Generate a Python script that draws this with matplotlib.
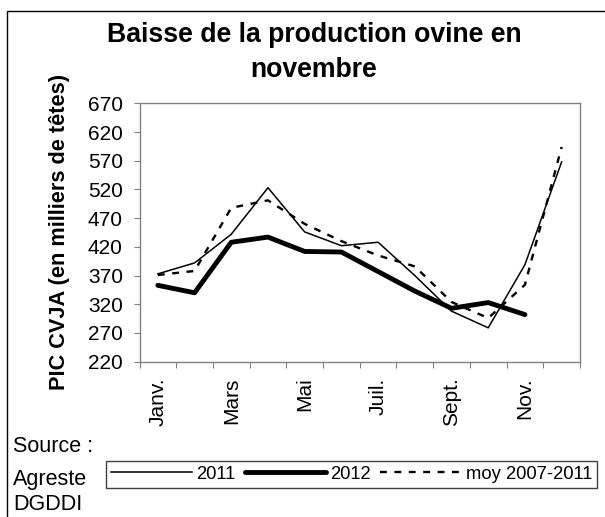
import numpy as np
import matplotlib
matplotlib.use("Agg")
import matplotlib.pyplot as plt
from matplotlib.patches import Rectangle

plt.rcParams['font.family'] = ['Liberation Sans', 'DejaVu Sans']

# Data (milliers de têtes)
months = ['Janv.', 'Févr.', 'Mars', 'Avr.', 'Mai', 'Juin',
          'Juil.', 'Août', 'Sept.', 'Oct.', 'Nov.', 'Déc.']
y_2011 = [373, 392, 442, 523, 446, 422, 428, 370, 308, 279, 389, 568]
y_2012 = [353, 340, 428, 437, 412, 411, 377, 343, 313, 323, 302, np.nan]
y_moy = [371, 378, 488, 501, 460, 430, 405, 386, 324, 296, 354, 594]
y_ticks = list(range(220, 671, 50))

W, H = 605, 517
fig = plt.figure(figsize=(W / 100, H / 100), dpi=100)
ax = fig.add_axes([139.5 / W, 1 - 361.7 / H, 440.5 / W, 258.4 / H])

x = np.arange(len(months))
l1, = ax.plot(x, y_2011, color='black', lw=1.1, label='2011')
l2, = ax.plot(x, y_2012, color='black', lw=3.5, label='2012',
              solid_capstyle='round')
l3, = ax.plot(x, y_moy, color='black', lw=1.7, label='moy 2007-2011',
              dashes=(2.9, 3.2))

ax.set_xlim(-0.5, len(months) - 0.5)
ax.set_ylim(220, 670)
ax.set_yticks(y_ticks)

# tick marks between categories, labels every other month
ax.set_xticks(np.arange(-0.5, len(months), 1.0))
ax.set_xticklabels([])
ax.set_xticks(x[::2], minor=True)
ax.set_xticklabels(months[::2], minor=True, rotation=90, fontsize=15)
ax.tick_params(axis='x', which='minor', length=0, pad=11.5)
ax.tick_params(axis='x', which='major', length=4.5, color='#808080', direction='out')
ax.tick_params(axis='y', length=4.5, color='#808080', direction='out',
               labelsize=15, pad=7.5)

for s in ax.spines.values():
    s.set_color('#808080')
    s.set_linewidth(1.0)

# title and y label
fig.text(314 / W, 1 - 41.7 / H, 'Baisse de la production ovine en',
         ha='center', va='baseline', fontsize=19.2, fontweight='bold')
fig.text(314 / W, 1 - 77 / H, 'novembre',
         ha='center', va='baseline', fontsize=19.2, fontweight='bold')
fig.text(60 / W, 1 - 231.5 / H, 'PIC CVJA (en milliers de têtes)',
         rotation=90, ha='center', va='center', fontsize=15.7,
         fontweight='bold')

# source
for txt, yb in [('Source :', 451.7), ('Agreste', 485), ('DGDDI', 510)]:
    fig.text(13 / W, 1 - yb / H, txt, ha='left', va='baseline', fontsize=15.5)

leg = fig.legend(handles=[l1, l2, l3], loc='upper left',
                 bbox_to_anchor=(106 / W, 1 - 460.7 / H),
                 bbox_transform=fig.transFigure, ncol=3, fontsize=13.2,
                 handlelength=4.4, handletextpad=0.27, columnspacing=0.5,
                 borderaxespad=0, borderpad=0.27, fancybox=False,
                 framealpha=1)
leg.get_frame().set_edgecolor('#404040')
leg.get_frame().set_linewidth(1.0)

# outer chart frame
fig.patches.append(Rectangle((6.7 / W, -0.1), 1.2, 1.1 - 11 / H,
                             transform=fig.transFigure, fill=False,
                             edgecolor='black', lw=1.0))

fig.savefig('out.png', dpi=100)
